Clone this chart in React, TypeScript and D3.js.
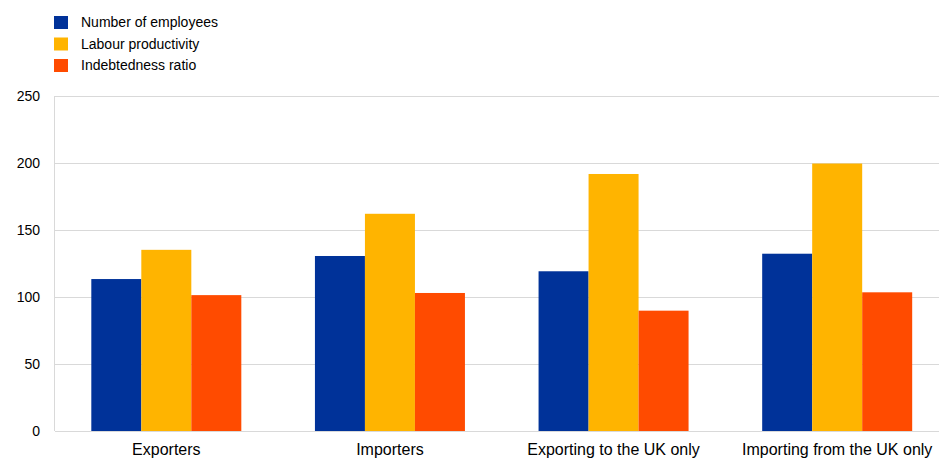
import React from "react";
import * as d3 from "d3";

const categories = ["Exporters", "Importers", "Exporting to the UK only", "Importing from the UK only"];
const seriesNames = ["Number of employees", "Labour productivity", "Indebtedness ratio"];
const employees = [113.4, 130.6, 119.2, 132.3];
const productivity = [135.2, 162.1, 191.8, 199.6];
const indebtedness = [101.4, 103.0, 89.8, 103.5];
const yTicks = [0, 50, 100, 150, 200, 250];
const colors = ["#003299", "#FFB400", "#FF4B00"];

export default function App() {
  const W = 939, H = 458;
  const left = 55, right = 939, top = 96, bottom = 431;
  const series = [employees, productivity, indebtedness];
  const bandLeft = 54.5, bandRight = 949;
  const x0 = d3.scaleBand().domain(categories).range([bandLeft, bandRight]).paddingInner(0).paddingOuter(0);
  const groupW = 150;
  const x1 = d3.scaleBand().domain(seriesNames).range([0, groupW]);
  const y = d3.scaleLinear().domain([0, 250]).range([bottom, top]);
  const font = "'Liberation Sans', Arial, sans-serif";
  return (
    <svg width={W} height={H} style={{ position: "absolute", left: 0, top: 0 }} fontFamily={font}>
      <rect width={W} height={H} fill="#fff" />
      {yTicks.map((t) => (
        <g key={t}>
          <line x1={left} x2={right} y1={y(t) + 0.5} y2={y(t) + 0.5} stroke="#d9d9d9" strokeWidth={1} />
          <text x={40} y={y(t)} dy="0.35em" textAnchor="end" fontSize={14} fill="#000">{t}</text>
        </g>
      ))}
      <line x1={left - 0.5} x2={left - 0.5} y1={top} y2={bottom} stroke="#d9d9d9" />
      {categories.map((c, i) => {
        const gx = (x0(c) as number) + (x0.bandwidth() - groupW) / 2;
        return (
          <g key={c}>
            {series.map((s, j) => (
              <rect key={j} x={gx + (x1(seriesNames[j]) as number)} y={y(s[i])} width={x1.bandwidth()} height={bottom - y(s[i])} fill={colors[j]} />
            ))}
            <text x={(x0(c) as number) + x0.bandwidth() / 2} y={455} textAnchor="middle" fontSize={16} fill="#000">{c}</text>
          </g>
        );
      })}
      {seriesNames.map((n, j) => (
        <g key={n}>
          <rect x={54} y={16 + j * 21.5} width={14} height={13} fill={colors[j]} />
          <text x={81} y={22.5 + j * 21.5} dy="0.35em" fontSize={14} fill="#000">{n}</text>
        </g>
      ))}
    </svg>
  );
}
